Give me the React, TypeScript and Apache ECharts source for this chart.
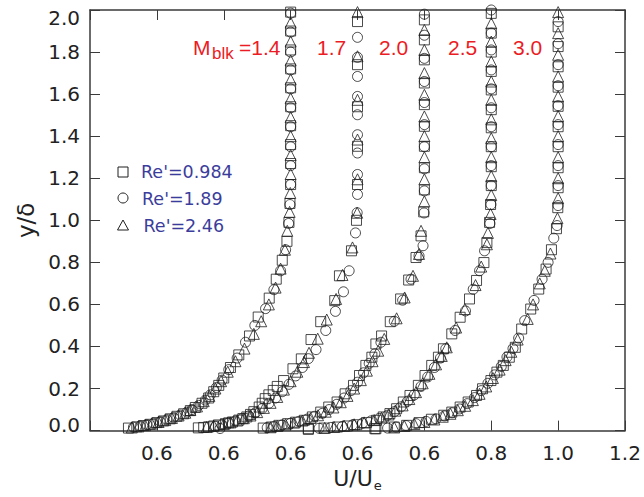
import React, { useEffect, useRef } from "react";
import * as echarts from "echarts";

// Each boundary-layer profile is drawn shifted along x by its own offset
const MACH_LABELS = ["1.4", "1.7", "2.0", "2.5", "3.0"];
const PROFILE_OFFSET = [-0.8, -0.6, -0.4, -0.2, 0];
const X_TICK_LABELS = ["", "0.6", "0.6", "0.6", "0.6", "0.6", "0.8", "1.0", "1.2"];
const SERIES_NAMES = ["Re'=0.984", "Re'=1.89", "Re'=2.46"];

// [U/Ue, y/delta] for Re'=0.984 (squares)
const SQ_M14 = [[1.0,1.99],[1.0,1.90],[1.0,1.81],[1.0,1.72],[1.0,1.63],[1.0,1.54],[1.0,1.45],[1.0,1.36],[1.0,1.27],[1.0,1.17],[0.998,1.08],[0.995,0.99],[0.989,0.90],[0.975,0.81],[0.957,0.72],[0.936,0.63],[0.903,0.54],[0.877,0.45],[0.845,0.36],[0.82,0.30],[0.80,0.25],[0.785,0.215],[0.77,0.185],[0.755,0.155],[0.735,0.13],[0.715,0.11],[0.70,0.095],[0.68,0.08],[0.66,0.068],[0.64,0.056],[0.62,0.046],[0.60,0.038],[0.58,0.03],[0.56,0.024],[0.54,0.018],[0.515,0.012]];
const SQ_M17 = [[1.0,1.945],[1.0,1.74],[1.0,1.54],[1.0,1.352],[1.0,1.17],[0.997,1.0],[0.982,0.855],[0.946,0.736],[0.932,0.618],[0.89,0.518],[0.861,0.433],[0.832,0.341],[0.807,0.294],[0.779,0.238],[0.76,0.21],[0.748,0.191],[0.735,0.17],[0.724,0.152],[0.715,0.13],[0.706,0.112],[0.69,0.09],[0.68,0.077],[0.669,0.065],[0.657,0.057],[0.645,0.05],[0.626,0.041],[0.615,0.037],[0.605,0.033],[0.584,0.027],[0.57,0.022],[0.555,0.018],[0.54,0.015],[0.524,0.013]];
const SQ_M20 = [[1.0,1.953],[1.0,1.858],[1.0,1.763],[1.0,1.653],[1.0,1.55],[1.0,1.447],[1.0,1.352],[1.0,1.25],[1.0,1.145],[0.998,1.04],[0.99,0.926],[0.975,0.823],[0.953,0.716],[0.929,0.626],[0.898,0.518],[0.872,0.45],[0.855,0.412],[0.843,0.349],[0.825,0.31],[0.806,0.262],[0.788,0.215],[0.763,0.175],[0.739,0.136],[0.714,0.112],[0.69,0.088],[0.665,0.065],[0.641,0.049],[0.615,0.04],[0.591,0.033],[0.565,0.025],[0.542,0.017],[0.518,0.012],[0.653,0.006]];
const SQ_M25 = [[1.0,1.984],[1.0,1.89],[1.0,1.80],[1.0,1.708],[1.0,1.62],[1.0,1.526],[1.0,1.44],[1.0,1.35],[1.0,1.255],[1.0,1.165],[0.998,1.075],[0.995,0.99],[0.987,0.894],[0.978,0.799],[0.956,0.714],[0.935,0.626],[0.907,0.539],[0.882,0.46],[0.857,0.389],[0.842,0.349],[0.822,0.31],[0.802,0.262],[0.782,0.215],[0.757,0.167],[0.737,0.136],[0.717,0.104],[0.697,0.081],[0.677,0.065],[0.657,0.049],[0.627,0.038],[0.598,0.028],[0.57,0.022],[0.54,0.017],[0.50,0.012],[0.453,0.009],[0.652,0.009]];
const SQ_M30 = [[1.0,1.92],[1.0,1.826],[1.0,1.73],[1.0,1.633],[1.0,1.542],[1.0,1.445],[1.0,1.35],[1.0,1.25],[1.0,1.155],[0.999,1.06],[0.995,0.96],[0.98,0.86],[0.964,0.768],[0.942,0.673],[0.918,0.578],[0.891,0.483],[0.872,0.396],[0.854,0.349],[0.836,0.31],[0.817,0.278],[0.799,0.238],[0.774,0.199],[0.756,0.167],[0.731,0.136],[0.707,0.112],[0.682,0.088],[0.658,0.073],[0.621,0.054],[0.584,0.038],[0.547,0.025],[0.51,0.017],[0.455,0.009]];

// [U/Ue, y/delta] for Re'=1.89 (circles)
const CI_M14 = [[1.0,1.985],[1.0,1.895],[1.0,1.80],[1.0,1.715],[1.0,1.625],[1.0,1.535],[1.0,1.445],[1.0,1.35],[1.0,1.26],[1.0,1.17],[0.998,1.075],[0.994,0.985],[0.985,0.86],[0.97,0.76],[0.95,0.67],[0.925,0.58],[0.893,0.50],[0.865,0.42],[0.84,0.345],[0.815,0.29],[0.795,0.24],[0.778,0.205],[0.76,0.17],[0.745,0.145],[0.725,0.12],[0.705,0.10],[0.69,0.088],[0.67,0.074],[0.65,0.062],[0.63,0.052],[0.61,0.043],[0.59,0.035],[0.57,0.028],[0.55,0.022],[0.53,0.016]];
const CI_M17 = [[1.0,1.87],[1.0,1.775],[1.0,1.684],[1.0,1.589],[1.0,1.502],[1.0,1.407],[1.0,1.32],[1.0,1.218],[1.0,1.123],[0.999,1.036],[0.994,0.94],[0.975,0.76],[0.958,0.66],[0.934,0.567],[0.905,0.476],[0.876,0.385],[0.853,0.342],[0.835,0.30],[0.815,0.26],[0.795,0.22],[0.775,0.185],[0.755,0.155],[0.735,0.13],[0.715,0.105],[0.695,0.085],[0.675,0.07],[0.655,0.057],[0.635,0.046],[0.615,0.037],[0.595,0.028],[0.575,0.02],[0.589,0.01]];
const CI_M20 = [[1.0,1.98],[1.0,1.88],[1.0,1.77],[1.0,1.66],[1.0,1.56],[1.0,1.455],[1.0,1.35],[1.0,1.245],[1.0,1.14],[0.999,1.035],[0.996,0.879],[0.984,0.831],[0.96,0.72],[0.935,0.62],[0.91,0.52],[0.87,0.42],[0.852,0.365],[0.835,0.32],[0.818,0.275],[0.80,0.23],[0.78,0.19],[0.76,0.155],[0.738,0.125],[0.715,0.1],[0.695,0.082],[0.672,0.068],[0.65,0.055],[0.625,0.044],[0.60,0.035],[0.575,0.027],[0.55,0.02],[0.53,0.014]];
const CI_M25 = [[1.0,2.0],[1.0,1.89],[1.0,1.81],[1.0,1.715],[1.0,1.625],[1.0,1.535],[1.0,1.445],[1.0,1.35],[1.0,1.26],[1.0,1.165],[0.999,1.075],[0.996,0.985],[0.98,0.855],[0.965,0.76],[0.946,0.672],[0.923,0.569],[0.892,0.476],[0.864,0.389],[0.848,0.345],[0.83,0.3],[0.81,0.255],[0.79,0.21],[0.77,0.17],[0.75,0.14],[0.73,0.113],[0.71,0.09],[0.69,0.073],[0.665,0.058],[0.64,0.046],[0.615,0.035],[0.585,0.027],[0.555,0.02],[0.52,0.015],[0.485,0.011]];
const CI_M30 = [[1.0,1.945],[1.0,1.84],[1.0,1.74],[1.0,1.64],[1.0,1.545],[1.0,1.455],[1.0,1.36],[1.0,1.26],[1.0,1.165],[1.0,1.07],[0.997,0.975],[0.987,0.915],[0.97,0.80],[0.952,0.72],[0.928,0.619],[0.90,0.523],[0.882,0.44],[0.865,0.39],[0.847,0.35],[0.83,0.305],[0.81,0.265],[0.79,0.225],[0.77,0.19],[0.75,0.157],[0.728,0.128],[0.705,0.103],[0.683,0.085],[0.66,0.07],[0.635,0.056],[0.605,0.044],[0.575,0.033],[0.545,0.024],[0.515,0.017],[0.49,0.012]];

// [U/Ue, y/delta] for Re'=2.46 (triangles)
const TR_M14 = [[1.0,1.94],[1.0,1.85],[1.0,1.76],[1.0,1.67],[1.0,1.58],[1.0,1.49],[1.0,1.40],[1.0,1.31],[1.0,1.22],[0.999,1.13],[0.997,1.04],[0.99,0.95],[0.983,0.86],[0.97,0.77],[0.955,0.68],[0.935,0.60],[0.912,0.52],[0.89,0.46],[0.862,0.39],[0.835,0.33],[0.812,0.28],[0.792,0.235],[0.775,0.20],[0.757,0.165],[0.74,0.14],[0.72,0.115],[0.70,0.098],[0.685,0.085],[0.665,0.072],[0.645,0.06],[0.625,0.05],[0.605,0.041],[0.585,0.033],[0.565,0.026],[0.545,0.02],[0.525,0.015]];
const TR_M17 = [[1.0,1.99],[1.0,1.78],[1.0,1.573],[1.0,1.384],[1.0,1.195],[0.999,1.036],[0.985,0.871],[0.955,0.74],[0.936,0.626],[0.908,0.528],[0.881,0.437],[0.855,0.37],[0.84,0.326],[0.82,0.28],[0.80,0.235],[0.78,0.195],[0.76,0.16],[0.74,0.132],[0.72,0.108],[0.70,0.088],[0.68,0.072],[0.66,0.059],[0.64,0.048],[0.62,0.039],[0.60,0.031],[0.57,0.024],[0.549,0.017]];
const TR_M20 = [[1.0,1.905],[1.0,1.81],[1.0,1.70],[1.0,1.597],[1.0,1.494],[1.0,1.40],[1.0,1.30],[1.0,1.195],[1.0,1.09],[0.99,0.95],[0.984,0.84],[0.966,0.736],[0.941,0.633],[0.917,0.534],[0.88,0.436],[0.862,0.38],[0.845,0.33],[0.828,0.285],[0.81,0.24],[0.79,0.2],[0.77,0.165],[0.75,0.135],[0.728,0.11],[0.705,0.09],[0.682,0.073],[0.66,0.06],[0.635,0.048],[0.61,0.038],[0.585,0.03],[0.56,0.022],[0.54,0.016]];
const TR_M25 = [[1.0,1.937],[1.0,1.85],[1.0,1.755],[1.0,1.66],[1.0,1.573],[1.0,1.48],[1.0,1.39],[1.0,1.30],[1.0,1.21],[1.0,1.12],[0.998,1.03],[0.99,0.94],[0.987,0.886],[0.97,0.78],[0.953,0.692],[0.921,0.578],[0.895,0.49],[0.867,0.396],[0.852,0.355],[0.835,0.315],[0.815,0.27],[0.795,0.225],[0.775,0.183],[0.755,0.15],[0.735,0.12],[0.713,0.095],[0.693,0.077],[0.672,0.062],[0.65,0.05],[0.62,0.039],[0.59,0.03],[0.56,0.023],[0.53,0.017],[0.502,0.013]];
const TR_M30 = [[1.0,1.99],[1.0,1.89],[1.0,1.787],[1.0,1.684],[1.0,1.589],[1.0,1.495],[1.0,1.40],[1.0,1.30],[1.0,1.20],[1.0,1.105],[0.998,1.01],[0.977,0.842],[0.96,0.76],[0.945,0.70],[0.925,0.60],[0.909,0.531],[0.879,0.433],[0.86,0.375],[0.843,0.335],[0.825,0.29],[0.805,0.25],[0.785,0.21],[0.765,0.175],[0.745,0.145],[0.722,0.118],[0.70,0.097],[0.678,0.08],[0.655,0.066],[0.63,0.053],[0.60,0.041],[0.57,0.031],[0.54,0.022],[0.51,0.015]];

const SQUARES = [SQ_M14, SQ_M17, SQ_M20, SQ_M25, SQ_M30];
const CIRCLES = [CI_M14, CI_M17, CI_M20, CI_M25, CI_M30];
const TRIANGLES = [TR_M14, TR_M17, TR_M20, TR_M25, TR_M30];

const AXIS_COLOR = "#3a3a3a";
const MARK_COLOR = "#1e1e1e";
const RED = "#ec1c24";
const BLUE = "#3b3d9c";
const TICK_FONT = "DejaVu Sans";

function shifted(profiles: number[][][]) {
  const out: number[][] = [];
  profiles.forEach((pts, i) => {
    pts.forEach(([u, y]) => out.push([u + PROFILE_OFFSET[i], y]));
  });
  return out;
}

export default function App() {
  const ref = useRef<HTMLDivElement>(null);
  useEffect(() => {
    if (!ref.current) return;
    const chart = echarts.init(ref.current, null, { renderer: "svg" });
    const axisLine = { show: true, onZero: false, lineStyle: { color: AXIS_COLOR, width: 1.5 } };
    const axisTick = { show: true, inside: true, length: 10, lineStyle: { color: AXIS_COLOR, width: 1 } };
    const markStyle = { color: "rgba(0,0,0,0)", borderColor: MARK_COLOR, borderWidth: 1 };
    const redFont = { fill: RED, fontFamily: "Liberation Sans", verticalAlign: "middle" };
    const redX = [317, 379, 448, 513];
    const graphic: any[] = [
      { type: "text", x: 193, y: 47, style: { ...redFont, text: "M", fontSize: 21 } },
      { type: "text", x: 212, y: 53.5, style: { ...redFont, text: "blk", fontSize: 17 } },
      { type: "text", x: 239, y: 47, style: { ...redFont, text: "=" + MACH_LABELS[0], fontSize: 21 } },
      ...MACH_LABELS.slice(1).map((m, i) => ({
        type: "text", x: redX[i], y: 47, style: { ...redFont, text: m, fontSize: 21 },
      })),
      { type: "rect", shape: { x: 118, y: 167, width: 10, height: 10 }, style: { fill: "none", stroke: MARK_COLOR, lineWidth: 1 } },
      { type: "circle", shape: { cx: 123, cy: 198, r: 5 }, style: { fill: "none", stroke: MARK_COLOR, lineWidth: 1 } },
      { type: "polygon", shape: { points: [[117.5, 230], [128.5, 230], [123, 220]] }, style: { fill: "none", stroke: MARK_COLOR, lineWidth: 1 } },
      { type: "text", x: 141, y: 172, style: { text: SERIES_NAMES[0], fill: BLUE, fontSize: 17.5, fontFamily: TICK_FONT, verticalAlign: "middle" } },
      { type: "text", x: 142, y: 198.5, style: { text: SERIES_NAMES[1], fill: BLUE, fontSize: 17.5, fontFamily: TICK_FONT, verticalAlign: "middle" } },
      { type: "text", x: 143.5, y: 225.5, style: { text: SERIES_NAMES[2], fill: BLUE, fontSize: 17.5, fontFamily: TICK_FONT, verticalAlign: "middle" } },
    ];
    const option: any = {
      animation: false,
      backgroundColor: "#ffffff",
      grid: { left: 90, right: 19, top: 10, bottom: 65 },
      xAxis: [
        {
          type: "value", min: -0.4, max: 1.2, interval: 0.2, position: "bottom",
          axisLine, axisTick, splitLine: { show: false },
          axisLabel: {
            margin: 12, fontSize: 20, fontFamily: TICK_FONT, color: "#222",
            formatter: (v: number) => X_TICK_LABELS[Math.round((v + 0.4) / 0.2)] ?? "",
          },
          name: "{a|U/U}{b|e}", nameLocation: "middle", nameGap: 33,
          nameTextStyle: {
            color: "#222", fontFamily: TICK_FONT, fontSize: 22,
            rich: {
              a: { fontSize: 22, fontFamily: TICK_FONT, color: "#222" },
              b: { fontSize: 13, fontFamily: TICK_FONT, color: "#222", padding: [14, 0, 0, 1] },
            },
          },
        },
        {
          type: "value", min: -0.4, max: 1.2, interval: 0.2, position: "top",
          axisLine, axisTick, axisLabel: { show: false }, splitLine: { show: false },
        },
      ],
      yAxis: [
        {
          type: "value", min: 0, max: 2, interval: 0.2, position: "left",
          axisLine, axisTick, splitLine: { show: false },
          axisLabel: {
            margin: 10, fontSize: 20, fontFamily: TICK_FONT, color: "#222",
            formatter: (v: number) => {
              const s = v.toFixed(1);
              if (v >= 1.99) return "{top|" + s + "}";
              if (v <= 0.01) return "{bot|" + s + "}";
              return s;
            },
            rich: {
              top: { fontSize: 20, fontFamily: TICK_FONT, color: "#222", padding: [16, 0, 0, 0] },
              bot: { fontSize: 20, fontFamily: TICK_FONT, color: "#222", padding: [0, 0, 12, 0] },
            },
          },
          name: "y/δ", nameLocation: "middle", nameGap: 50,
          nameTextStyle: { color: "#222", fontFamily: TICK_FONT, fontSize: 23 },
        },
        {
          type: "value", min: 0, max: 2, interval: 0.2, position: "right",
          axisLine, axisTick, axisLabel: { show: false }, splitLine: { show: false },
        },
      ],
      series: [
        { name: SERIES_NAMES[0], type: "scatter", symbol: "rect", symbolSize: 10, itemStyle: markStyle, data: shifted(SQUARES), z: 3 },
        { name: SERIES_NAMES[1], type: "scatter", symbol: "circle", symbolSize: 10, itemStyle: markStyle, data: shifted(CIRCLES), z: 3 },
        { name: SERIES_NAMES[2], type: "scatter", symbol: "triangle", symbolSize: 11, itemStyle: markStyle, data: shifted(TRIANGLES), z: 3 },
      ],
      graphic,
    };
    chart.setOption(option);
    return () => chart.dispose();
  }, []);
  return (
    <div style={{ position: "fixed", left: 0, top: 0, width: 644, height: 497, background: "#fff" }}>
      <div ref={ref} style={{ width: 644, height: 497 }} />
    </div>
  );
}
